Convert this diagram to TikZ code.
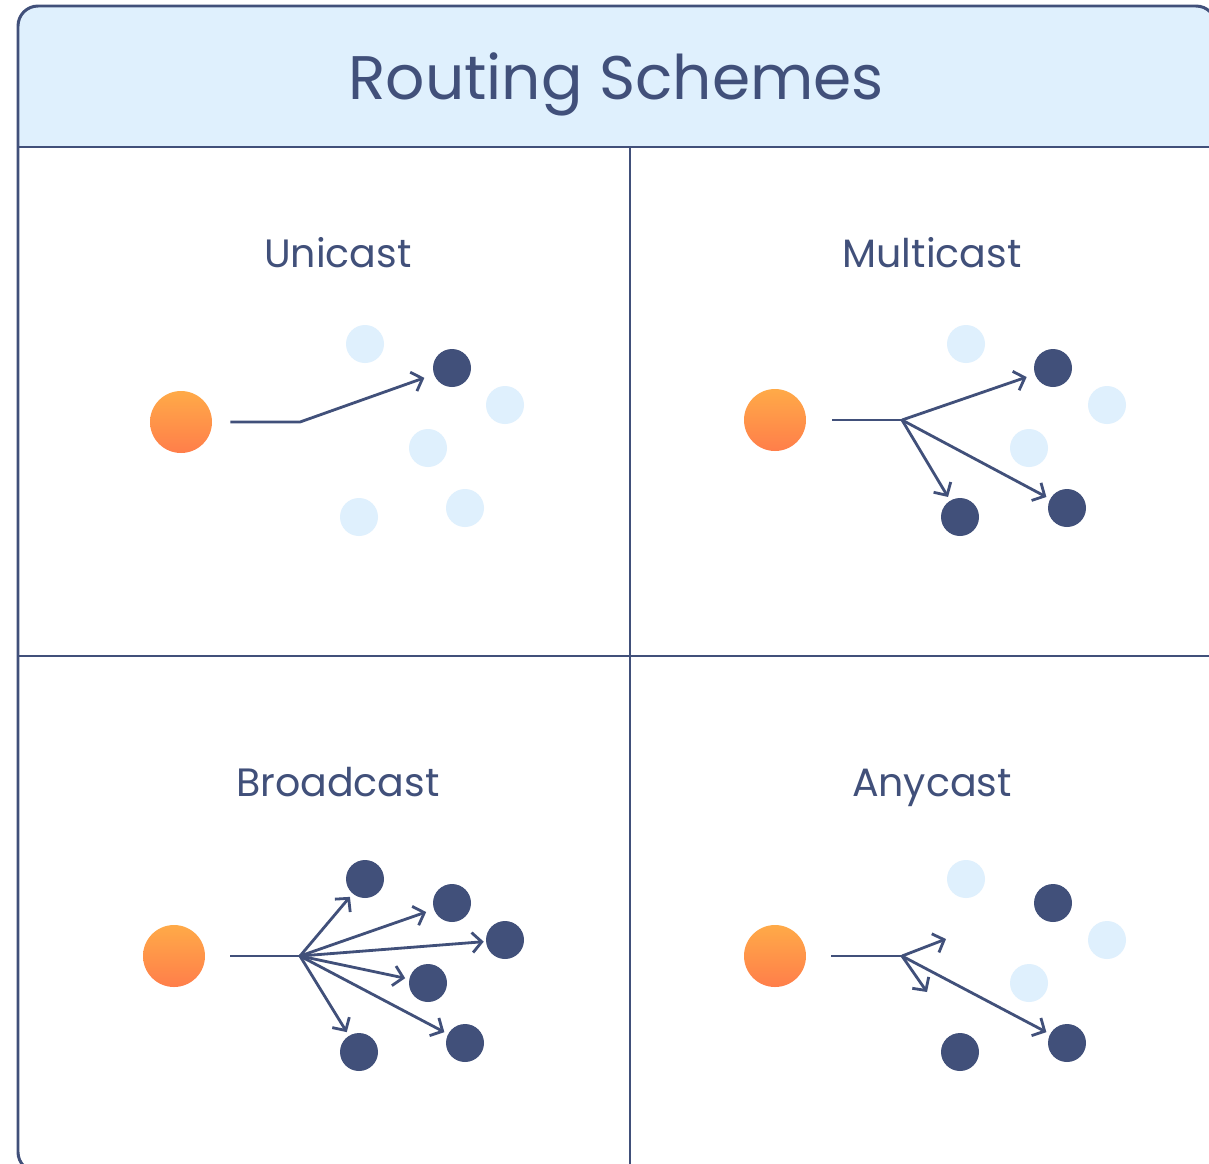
\documentclass[tikz,border=0pt]{standalone}
\usepackage{fontspec}
\setmainfont{Poppins}
\usetikzlibrary{arrows.meta,positioning}
\definecolor{navy}{RGB}{65,80,122}
\definecolor{paleblue}{RGB}{223,240,253}
\definecolor{orangetop}{RGB}{255,170,72}
\definecolor{orangebot}{RGB}{255,126,74}
\tikzset{
  srcdot/.style={ circle, inner sep=0pt, minimum size=1.24cm, top color=orangetop, bottom color=orangebot }
}
\tikzset{
  host/.style={ circle, inner sep=0pt, minimum size=0.76cm, fill=navy }
}
\tikzset{
  idle/.style={ circle, inner sep=0pt, minimum size=0.76cm, fill=paleblue }
}
\tikzset{
  wire/.style={ draw=navy, line width=1.6pt },
  arr/.style={ wire, -{Straight Barb[length=0.19cm, width=0.4cm, line width=1.6pt]}, shorten >=0.08cm },
  panel/.style={ anchor=base, font=\fontsize{22.5}{27}\selectfont, text=navy }
}

\begin{document}
\begin{tikzpicture}[x=0.02cm, y=-0.02cm]
      \useasboundingbox (0,0) rectangle (1209,1163);
      % frame and header
      \fill[white, rounded corners=0.4cm] (18,6) rectangle (1216,1172);
      \begin{scope}
        \clip[rounded corners=0.4cm] (18,6) rectangle (1216,1172);
        \fill[paleblue] (18,6) rectangle (1216,147);
      \end{scope}
      \draw[navy, line width=0.9pt] (630,147) -- (630,1172);
      \draw[navy, line width=0.9pt] (18,656) -- (1216,656);
      \draw[navy, line width=1.7pt] (18,147) -- (1216,147);
      \draw[navy, line width=1.7pt, rounded corners=0.4cm] (18,6) rectangle (1216,1172);

      \node[anchor=base, font=\fontsize{35}{42}\selectfont, text=navy] (title) at (616,99) {Routing Schemes};

      % unicast
      \node[panel] (uni) at (338,267) {Unicast};
      \node[srcdot] (usrc) at (181,422) {};
      \node[idle] (u1) at (365,344) {};
      \node[idle] (u2) at (505,405) {};
      \node[idle] (u3) at (428,448) {};
      \node[idle] (u4) at (359,517) {};
      \node[idle] (u5) at (465,508) {};
      \node[host] (ut) at (452,368) {};
      \coordinate (ubr) at (300,422);
      \draw[arr, shorten <=0.36cm, shorten >=0.2cm] (usrc) -- (ubr) -- (ut);

      % multicast
      \node[panel] (multi) at (932,267) {Multicast};
      \node[srcdot] (msrc) at (775,420) {};
      \node[idle] (m1) at (966,344) {};
      \node[idle] (m2) at (1107,405) {};
      \node[idle] (m3) at (1029,448) {};
      \node[host] (mt1) at (1053,368) {};
      \node[host] (mt2) at (960,517) {};
      \node[host] (mt3) at (1067,508) {};
      \coordinate (mbr) at (902,420);
      \draw[wire, shorten <=0.52cm] (msrc) -- (mbr);
      \draw[arr, shorten >=0.17cm] (mbr) -- (mt1);
      \draw[arr] (mbr) -- (mt2);
      \draw[arr] (mbr) -- (mt3);

      % broadcast
      \node[panel] (broad) at (338,796) {Broadcast};
      \node[srcdot] (bsrc) at (174,956) {};
      \node[host] (bt1) at (365,879) {};
      \node[host] (bt2) at (452,903) {};
      \node[host] (bt3) at (505,940) {};
      \node[host] (bt4) at (428,983) {};
      \node[host] (bt5) at (359,1052) {};
      \node[host] (bt6) at (465,1043) {};
      \coordinate (bbr) at (300,956);
      \draw[wire, shorten <=0.5cm] (bsrc) -- (bbr);
      \draw[arr] (bbr) -- (bt1);
      \draw[arr, shorten >=0.16cm] (bbr) -- (bt2);
      \draw[arr, shorten >=0.04cm] (bbr) -- (bt3);
      \draw[arr] (bbr) -- (bt4);
      \draw[arr] (bbr) -- (bt5);
      \draw[arr] (bbr) -- (bt6);

      % anycast
      \node[panel] (any) at (932,796) {Anycast};
      \node[srcdot] (asrc) at (775,956) {};
      \node[idle] (a1) at (966,879) {};
      \node[idle] (a2) at (1107,940) {};
      \node[idle] (a3) at (1029,983) {};
      \node[host] (at1) at (1053,903) {};
      \node[host] (at2) at (960,1052) {};
      \node[host] (at3) at (1067,1043) {};
      \coordinate (abr) at (902,956);
      \coordinate (astub1) at (946,939);
      \coordinate (astub2) at (927,992);
      \draw[wire, shorten <=0.5cm] (asrc) -- (abr);
      \draw[arr, shorten >=0pt] (abr) -- (astub1);
      \draw[arr, shorten >=0pt] (abr) -- (astub2);
      \draw[arr] (abr) -- (at3);
\end{tikzpicture}
\end{document}
